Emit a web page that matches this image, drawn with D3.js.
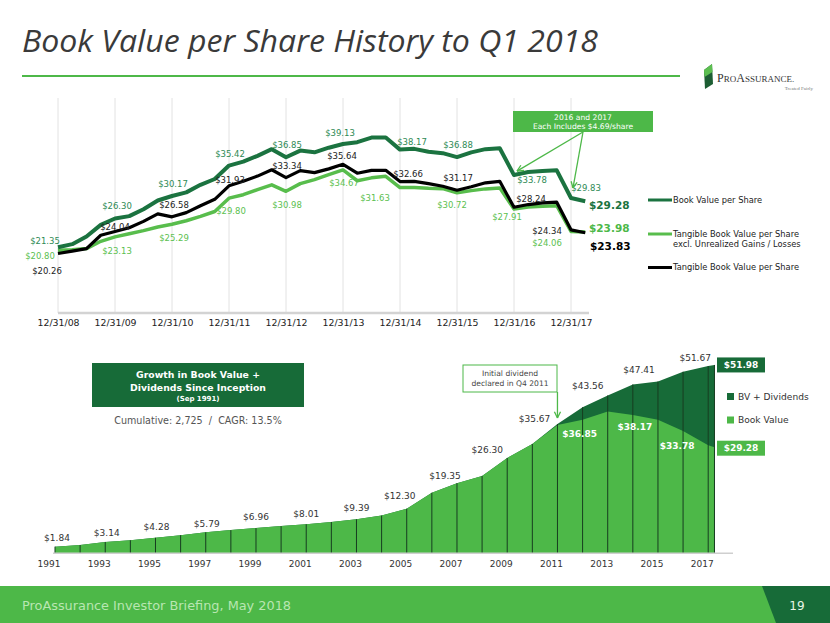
<!DOCTYPE html>
<html><head><meta charset="utf-8">
<script src="https://cdn.jsdelivr.net/npm/d3@7/dist/d3.min.js"></script>
<style>body{margin:0;background:#fff}svg{display:block}</style>
</head><body>
<svg id="c" width="830" height="623"></svg>
<script>
// ================= DATA =================
// Top chart: quarterly values 12/31/08 .. 3/31/18 (38 quarters)
const yearEndLabels = ['12/31/08','12/31/09','12/31/10','12/31/11','12/31/12','12/31/13','12/31/14','12/31/15','12/31/16','12/31/17'];
const bookValuePerShare = [21.35,21.87,23.2,25.2,26.30,26.7,27.9,29.4,30.17,30.8,32.1,33.1,35.42,36.1,37.1,38.25,36.85,38.0,37.7,38.5,39.13,39.45,40.25,40.25,38.17,38.3,37.8,37.56,36.88,37.7,38.25,38.4,33.78,34.3,34.5,34.6,29.83,29.28];
const tangibleExclUnrealized = [20.80,20.92,21.1,22.36,23.13,23.66,24.2,24.83,25.29,25.9,26.66,27.5,29.80,30.4,31.26,32.1,30.98,32.3,33.0,33.85,34.67,32.8,33.3,33.56,31.63,31.63,31.5,31.44,30.72,31.1,31.4,31.57,27.91,28.28,28.4,28.5,24.06,23.98];
const tangibleBookValue = [20.26,20.66,21.1,23.4,24.04,24.7,25.8,27.1,26.58,27.3,28.5,29.6,31.93,32.7,33.6,34.7,33.34,34.55,34.2,34.85,35.64,34.1,34.6,34.6,32.66,32.7,32.3,31.86,31.17,31.76,32.45,32.7,28.24,28.7,29.0,29.1,24.34,23.83];
const topSeriesNames = ['Book Value per Share', 'Tangible Book Value per Share|excl. Unrealized Gains / Losses', 'Tangible Book Value per Share'];
const topNote = ['2016 and 2017', 'Each Includes $4.69/share'];

// Bottom chart: annual values 1991 .. 2017 plus Q1 2018
const growthPeriods = [1991,1992,1993,1994,1995,1996,1997,1998,1999,2000,2001,2002,2003,2004,2005,2006,2007,2008,2009,2010,2011,2012,2013,2014,2015,2016,2017,2017.25];
const bookValue = [1.84,2.3,3.14,3.6,4.28,5.0,5.79,6.4,6.96,7.5,8.01,8.65,9.39,10.4,12.30,16.7,19.35,21.35,26.30,30.17,35.42,36.85,39.13,38.17,36.88,33.78,29.83,29.28];
const bvPlusDividends = [1.84,2.3,3.14,3.6,4.28,5.0,5.79,6.4,6.96,7.5,8.01,8.65,9.39,10.4,12.30,16.7,19.35,21.35,26.30,30.17,35.67,40.3,43.56,46.6,47.41,50.1,51.67,51.98];
const bottomTickYears = [1991,1993,1995,1997,1999,2001,2003,2005,2007,2009,2011,2013,2015,2017];
const bottomSeriesNames = ['BV + Dividends', 'Book Value'];
const bottomTitle = ['Growth in Book Value +', 'Dividends Since Inception', '(Sep 1991)'];
const bottomSubtitle = 'Cumulative: 2,725  /  CAGR: 13.5%';
const dividendNote = ['Initial dividend', 'declared in Q4 2011'];

// ================= LAYOUT / STYLE =================
const C = {
  dark: '#1b7340', darkArea: '#176b38', bright: '#4db848', lineLight: '#58bd4c',
  labDark: '#2f8a55', labLight: '#5cbf50', labBlack: '#222'
};
const FONT = 'DejaVu Sans, Verdana, sans-serif';
const fmt = v => '$' + v.toFixed(2);

const svg = d3.select('#c');

// ---- Header
svg.append('text').attr('x', 22).attr('y', 52)
  .attr('font-family', 'Open Sans, DejaVu Sans, sans-serif').attr('font-style', 'italic')
  .attr('font-size', 31).attr('fill', '#3a3a3a')
  .attr('textLength', 576).attr('lengthAdjust', 'spacingAndGlyphs')
  .text('Book Value per Share History to Q1 2018');
svg.append('line').attr('x1', 22).attr('x2', 680).attr('y1', 76).attr('y2', 76)
  .attr('stroke', C.bright).attr('stroke-width', 2);

// ---- Logo
const logo = svg.append('g');
logo.append('path').attr('d', 'M704,70 L712,64 L713,84 L705,89 Z').attr('fill', '#1d5e33');
logo.append('path').attr('d', 'M704,70 L712,64 L712.5,72 L704.5,77 Z').attr('fill', '#5cbf50');
const lt = logo.append('text').attr('x', 717).attr('y', 82).attr('font-family', 'Liberation Serif, DejaVu Serif, serif').attr('fill', '#333');
lt.append('tspan').attr('font-size', 12).text('P');
lt.append('tspan').attr('font-size', 9).text('RO');
lt.append('tspan').attr('font-size', 12).text('A');
lt.append('tspan').attr('font-size', 9).text('SSURANCE.');
logo.append('text').attr('x', 813).attr('y', 90).attr('text-anchor', 'end')
  .attr('font-family', 'Liberation Serif, serif').attr('font-size', 5).attr('fill', '#777').text('Treated Fairly');

// ================= TOP CHART =================
const xTop = d3.scaleLinear().domain([0, 36]).range([58, 571]);
const yTop = d3.scaleLinear().domain([10, 45]).range([313, 110]);
const gTop = svg.append('g');

// gridlines
const tickIdx = yearEndLabels.map((d, i) => i * 4);
gTop.selectAll('line.grid').data(tickIdx).join('line')
  .attr('x1', d => xTop(d)).attr('x2', d => xTop(d)).attr('y1', 98).attr('y2', 313)
  .attr('stroke', '#e2e2e2').attr('stroke-width', 1);

// axis
const axTop = gTop.append('g').attr('transform', 'translate(0,313)')
  .call(d3.axisBottom(xTop).tickValues(tickIdx).tickFormat(d => yearEndLabels[d / 4]).tickSize(0).tickPadding(6));
axTop.select('.domain').remove();
axTop.selectAll('text').attr('font-family', FONT).attr('font-size', 9.4).attr('fill', '#222');
gTop.append('line').attr('x1', 58).attr('x2', 589).attr('y1', 313).attr('y2', 313)
  .attr('stroke', '#d3d3d3').attr('stroke-width', 2.5);

const topSeries = [
  { vals: tangibleExclUnrealized, color: C.lineLight, w: 3.5, lab: C.labLight,
    offs: [[-18,6],[2,14],[2,14],[2,13],[1,14],[1,13],[-25,10],[-5,12],[-7,8],[-24,12]], end: [24,-4], endColor: C.bright },
  { vals: tangibleBookValue, color: '#000', w: 3.2, lab: C.labBlack,
    offs: [[-11,18],[0,-5],[2,-12],[1,-6],[1,-12],[-1,-8],[8,-8],[1,-12],[17,-8],[-24,1]], end: [25,14], endColor: '#000' },
  { vals: bookValuePerShare, color: C.dark, w: 4, lab: C.labDark,
    offs: [[-13,-6],[2,-12],[1,-12],[1,-12],[1,-12],[-3,-11],[12,-8],[1,-12],[18,5],[15,-10]], end: [24,4], endColor: C.dark }
];
const lineGen = d3.line().x((d, i) => xTop(i)).y(d => yTop(d));
topSeries.forEach(s => {
  gTop.append('path').datum(s.vals).attr('d', lineGen).attr('fill', 'none')
    .attr('stroke', s.color).attr('stroke-width', s.w).attr('stroke-linejoin', 'round');
});
topSeries.forEach(s => {
  gTop.selectAll(null).data(tickIdx).join('text')
    .attr('x', (d, k) => xTop(d) + s.offs[k][0]).attr('y', (d, k) => yTop(s.vals[d]) + s.offs[k][1])
    .attr('dy', '0.35em').attr('text-anchor', 'middle')
    .attr('font-family', FONT).attr('font-size', 8.5).attr('fill', s.lab)
    .text(d => fmt(s.vals[d]));
  const li = s.vals.length - 1;
  gTop.append('text').attr('x', xTop(li) + s.end[0]).attr('y', yTop(s.vals[li]) + s.end[1])
    .attr('dy', '0.35em').attr('text-anchor', 'middle')
    .attr('font-family', FONT).attr('font-size', 10.5).attr('font-weight', 'bold').attr('fill', s.endColor)
    .text(fmt(s.vals[li]));
});

// top legend
const legTop = [
  { name: topSeriesNames[0], color: C.dark, y: 200 },
  { name: topSeriesNames[1], color: C.lineLight, y: 234 },
  { name: topSeriesNames[2], color: '#000', y: 267.5 }
];
legTop.forEach(l => {
  gTop.append('line').attr('x1', 648).attr('x2', 672).attr('y1', l.y).attr('y2', l.y)
    .attr('stroke', l.color).attr('stroke-width', 3);
  const t = gTop.append('text').attr('x', 673).attr('y', l.y).attr('dy', '0.35em')
    .attr('font-family', FONT).attr('font-size', 8.3).attr('fill', '#222');
  l.name.split('|').forEach((p, k) => t.append('tspan').attr('x', 673).attr('dy', k === 0 ? '0.35em' : '1.25em').text(p));
});

// note box with arrows
gTop.append('rect').attr('x', 513).attr('y', 111).attr('width', 140).attr('height', 21).attr('fill', C.bright);
topNote.forEach((t, k) => gTop.append('text').attr('x', 583).attr('y', 119.5 + k * 9.5).attr('text-anchor', 'middle')
  .attr('font-family', FONT).attr('font-size', 7.6).attr('fill', '#fff').text(t));
function arrow(g, x1, y1, x2, y2, color) {
  g.append('line').attr('x1', x1).attr('y1', y1).attr('x2', x2).attr('y2', y2).attr('stroke', color).attr('stroke-width', 1.3);
  const a = Math.atan2(y2 - y1, x2 - x1), L = 7, s = 0.45;
  [a + Math.PI - s, a + Math.PI + s].forEach(b => g.append('line').attr('x1', x2).attr('y1', y2)
    .attr('x2', x2 + L * Math.cos(b)).attr('y2', y2 + L * Math.sin(b)).attr('stroke', color).attr('stroke-width', 1.3));
}
arrow(gTop, 583, 132, xTop(32) + 3, yTop(bookValuePerShare[32]) - 4, C.bright);
arrow(gTop, 583, 132, xTop(36) + 2, yTop(bookValuePerShare[36]) - 10, C.bright);

// ================= BOTTOM CHART =================
const xB = d3.scaleLinear().domain([1991, 2017]).range([55, 708.2]);
const yB = d3.scaleLinear().domain([0, 55]).range([553.3, 354]);
const gB = svg.append('g');
const areaGen = vals => d3.area().x((d, i) => xB(growthPeriods[i])).y0(yB(0)).y1(d => yB(d))(vals);
gB.append('path').attr('d', areaGen(bvPlusDividends)).attr('fill', C.darkArea);
gB.append('path').attr('d', areaGen(bookValue)).attr('fill', C.bright);
gB.selectAll('line.v').data(growthPeriods).join('line')
  .attr('x1', d => xB(d)).attr('x2', d => xB(d)).attr('y1', yB(0)).attr('y2', (d, i) => yB(bvPlusDividends[i]))
  .attr('stroke', '#173d20').attr('stroke-width', 1);
gB.append('line').attr('x1', 53).attr('x2', 733).attr('y1', yB(0)).attr('y2', yB(0)).attr('stroke', '#cfcfcf').attr('stroke-width', 1.5);

const axB = gB.append('g').attr('transform', `translate(-6.5,${yB(0)})`)
  .call(d3.axisBottom(xB).tickValues(bottomTickYears).tickFormat(d3.format('d')).tickSize(0).tickPadding(7));
axB.select('.domain').remove();
axB.selectAll('text').attr('font-family', FONT).attr('font-size', 9).attr('fill', '#333');

// labels above area (even indices)
const topLabIdx = [0,2,4,6,8,10,12,14,16,18,20,22,24,26];
const topLabOff = [[2,-9],[1.5,-9],[1,-11],[1,-8],[0,-11],[0,-10],[0,-11],[-7,-13],[-12,-7],[-20,-8],[-23,-5],[-20,-10],[-19,-12],[-13,-8]];
gB.selectAll(null).data(topLabIdx).join('text')
  .attr('x', (d, k) => xB(growthPeriods[d]) + topLabOff[k][0]).attr('y', (d, k) => yB(bvPlusDividends[d]) + topLabOff[k][1])
  .attr('dy', '0.35em').attr('text-anchor', 'middle').attr('font-family', FONT).attr('font-size', 9).attr('fill', '#333')
  .text(d => fmt(bvPlusDividends[d]));
// white BV labels inside
const inLabIdx = [21, 23, 25];
const inLabOff = [[-3,14],[2,12],[-6,15]];
gB.selectAll(null).data(inLabIdx).join('text')
  .attr('x', (d, k) => xB(growthPeriods[d]) + inLabOff[k][0]).attr('y', (d, k) => yB(bookValue[d]) + inLabOff[k][1])
  .attr('dy', '0.35em').attr('text-anchor', 'middle').attr('font-family', FONT).attr('font-size', 9).attr('font-weight', 'bold').attr('fill', '#fff')
  .text(d => fmt(bookValue[d]));
// end boxes
const li = growthPeriods.length - 1;
[[bvPlusDividends[li], C.darkArea, yB(bvPlusDividends[li])], [bookValue[li], C.bright, yB(bookValue[li]) + 1]].forEach(([v, col, cy]) => {
  gB.append('rect').attr('x', 717).attr('y', cy - 7.5).attr('width', 48).attr('height', 15).attr('fill', col);
  gB.append('text').attr('x', 741).attr('y', cy).attr('dy', '0.35em').attr('text-anchor', 'middle')
    .attr('font-family', FONT).attr('font-size', 9).attr('font-weight', 'bold').attr('fill', '#fff').text(fmt(v));
});
// legend
[[bottomSeriesNames[0], C.darkArea, 396.5], [bottomSeriesNames[1], C.bright, 420]].forEach(([n, col, y]) => {
  gB.append('rect').attr('x', 727).attr('y', y - 3.5).attr('width', 7).attr('height', 7).attr('fill', col);
  gB.append('text').attr('x', 738).attr('y', y).attr('dy', '0.35em').attr('font-family', FONT).attr('font-size', 9.1).attr('fill', '#333').text(n);
});
// dividend note
gB.append('rect').attr('x', 463).attr('y', 365).attr('width', 94).attr('height', 27).attr('fill', '#fff').attr('stroke', C.bright).attr('stroke-width', 1);
dividendNote.forEach((t, k) => gB.append('text').attr('x', 510).attr('y', 376 + k * 10).attr('text-anchor', 'middle')
  .attr('font-family', FONT).attr('font-size', 7.6).attr('fill', '#444').text(t));
arrow(gB, xB(2011), 392, xB(2011), yB(bvPlusDividends[20]) - 6, C.bright);

// title box
gB.append('rect').attr('x', 92).attr('y', 363).attr('width', 212).attr('height', 44).attr('fill', C.darkArea);
bottomTitle.forEach((t, k) => gB.append('text').attr('x', 198).attr('y', [378, 390.5, 401][k]).attr('text-anchor', 'middle')
  .attr('font-family', FONT).attr('font-weight', 'bold').attr('font-size', k < 2 ? 9.3 : 7).attr('fill', '#fff').text(t));
gB.append('text').attr('x', 198).attr('y', 423.5).attr('text-anchor', 'middle').attr('font-family', FONT)
  .attr('font-size', 9.6).attr('fill', '#555').attr('xml:space', 'preserve').style('white-space', 'pre').text(bottomSubtitle);

// ================= FOOTER =================
svg.append('rect').attr('x', 0).attr('y', 586).attr('width', 830).attr('height', 37).attr('fill', C.bright);
svg.append('path').attr('d', 'M762,586 L830,586 L830,623 L776,623 Z').attr('fill', C.darkArea);
svg.append('text').attr('x', 22).attr('y', 610).attr('font-family', FONT).attr('font-size', 12.5)
  .attr('fill', '#b9e6b2').attr('textLength', 269).attr('lengthAdjust', 'spacingAndGlyphs')
  .text('ProAssurance Investor Briefing, May 2018');
svg.append('text').attr('x', 797).attr('y', 610).attr('text-anchor', 'middle').attr('font-family', FONT).attr('font-size', 12)
  .attr('fill', '#e8f5e6').text('19');
</script>
</body></html>
